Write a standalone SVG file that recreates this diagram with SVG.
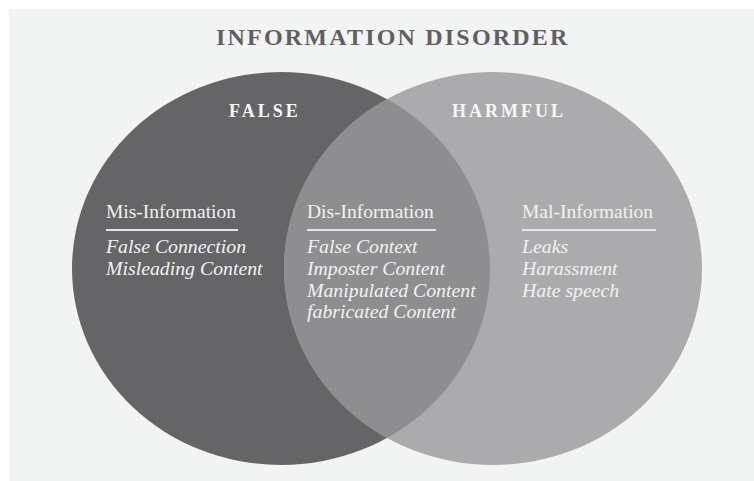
<svg xmlns="http://www.w3.org/2000/svg" width="754" height="481" viewBox="0 0 754 481">
<style>
.hd{font-family:"Liberation Serif","Times New Roman",serif;font-weight:bold;fill:#f7f7f7;font-size:18px;letter-spacing:3px}
.cat{font-family:"Liberation Serif","Times New Roman",serif;fill:#f2f2f2;font-size:19.5px}
.it{font-family:"Liberation Serif","Times New Roman",serif;font-style:italic;fill:#f2f2f2;font-size:19.8px}
.rule{stroke:#e4e4e6;stroke-width:1.8}
</style>
<defs>
<clipPath id="clipL"><ellipse cx="281" cy="268.5" rx="209" ry="196.5"/></clipPath>
</defs>
<rect x="0" y="0" width="754" height="481" fill="#ffffff"/>
<rect x="9" y="9" width="745" height="472" fill="#f2f3f3"/>
<text x="216" y="45" font-family="'Liberation Serif','Times New Roman',serif" font-weight="bold" font-size="24" letter-spacing="2.2" fill="#606062">INFORMATION DISORDER</text>
<g id="false">
<ellipse cx="281" cy="268.5" rx="209" ry="196.5" fill="#656567"/>
</g>
<g id="harmful">
<ellipse cx="493" cy="268.5" rx="209" ry="196.5" fill="#ababae"/>
</g>
<g id="overlap">
<ellipse cx="493" cy="268.5" rx="209" ry="196.5" fill="#8e8e90" clip-path="url(#clipL)"/>
</g>
<g id="labels">
<text class="hd" x="229" y="117">FALSE</text>
<text class="hd" x="452" y="117">HARMFUL</text>
</g>
<g id="mis">
<text class="cat" x="106" y="218">Mis-Information</text>
<line class="rule" x1="106" y1="230" x2="238" y2="230"/>
<text class="it" x="106" y="253">False Connection</text>
<text class="it" x="106" y="275">Misleading Content</text>
</g>
<g id="dis">
<text class="cat" x="307" y="218">Dis-Information</text>
<line class="rule" x1="307" y1="230" x2="436" y2="230"/>
<text class="it" x="307" y="253">False Context</text>
<text class="it" x="307" y="275">Imposter Content</text>
<text class="it" x="307" y="297">Manipulated Content</text>
<text class="it" x="307" y="318">fabricated Content</text>
</g>
<g id="mal">
<text class="cat" x="522" y="218">Mal-Information</text>
<line class="rule" x1="522" y1="230" x2="656" y2="230"/>
<text class="it" x="522" y="253">Leaks</text>
<text class="it" x="522" y="275">Harassment</text>
<text class="it" x="522" y="297">Hate speech</text>
</g>
<g id="connectors"></g>
</svg>
